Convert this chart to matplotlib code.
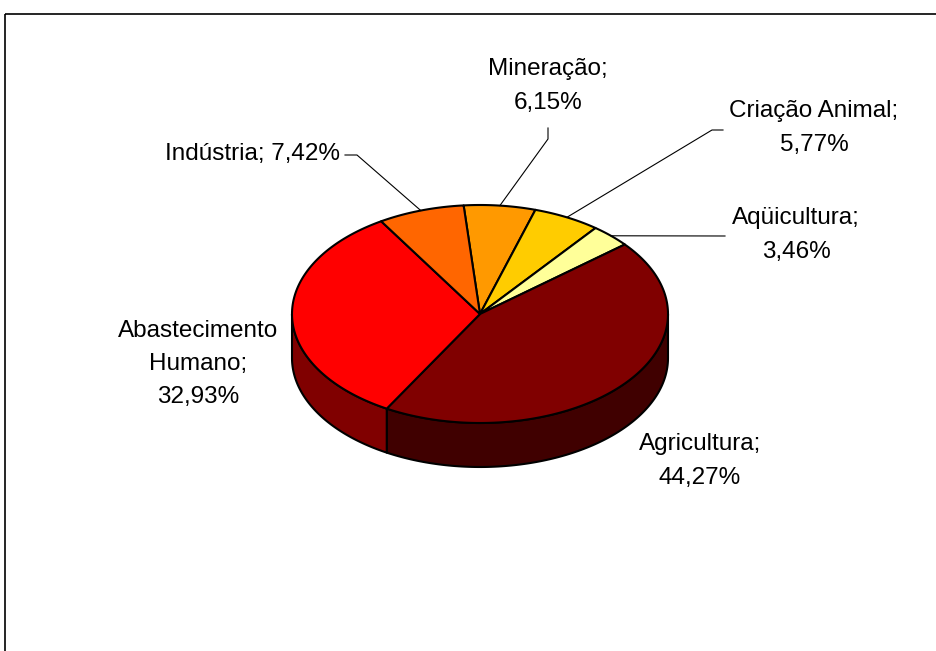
import numpy as np
import matplotlib
matplotlib.use('Agg')
import matplotlib.pyplot as plt
from matplotlib.patches import Polygon, Rectangle

plt.rcParams['font.family'] = ['Liberation Sans', 'DejaVu Sans']

# usos da água (%), em sentido horário a partir do topo
labels = ['Mineração', 'Criação Animal', 'Aqüicultura', 'Agricultura',
          'Abastecimento Humano', 'Indústria']
values = [6.15, 5.77, 3.46, 44.27, 32.93, 7.42]
top_colors = ['#FF9900', '#FFCC00', '#FFFF99', '#800000', '#FF0000', '#FF6600']
side_colors = ['#804C00', '#806600', '#80804C', '#400000', '#800000', '#803300']

# rótulos: texto, posição do texto e cotovelo da linha de chamada (pixels)
label_texts = ['Mineração;\n6,15%', 'Criação Animal;\n5,77%', 'Aqüicultura;\n3,46%',
               'Agricultura;\n44,27%', 'Abastecimento\nHumano;\n32,93%',
               'Indústria; 7,42%']
label_pos = [(548, 86), (814, 128), (796, 235), (700, 461), (198, 364), (253, 154)]
leader_start = [(548, 128), (723, 130), (725, 236), None, None, (345, 155)]
leader_elbow = [(548, 139), (712, 130), None, None, None, (357, 155)]

# geometria do disco em perspectiva
cx, cy, rx, ry, depth = 480, 314, 188, 109, 44
start_angle = 95.0


def ellipse_pts(t, dy=0.0):
    r = np.radians(t)
    return np.column_stack([cx + rx * np.cos(r), cy - ry * np.sin(r) + dy])


def front_spans(a_hi, a_lo):
    spans = []
    for k in (-1, 0, 1):
        lo = max(a_lo, -180 + 360 * k)
        hi = min(a_hi, 360 * k)
        if hi > lo:
            spans.append((lo, hi))
    return spans


fig = plt.figure(figsize=(9.37, 6.51), dpi=100)
ax = fig.add_axes([0, 0, 1, 1])
ax.set_xlim(0, 937)
ax.set_ylim(651, 0)
ax.axis('off')

ax.add_patch(Rectangle((5, 14), 1000, 700, fill=False, edgecolor='black', lw=1.2))

fracs = np.array(values) / sum(values) * 360.0
bounds = start_angle - np.concatenate([[0], np.cumsum(fracs)])

# faces laterais (só a metade da frente aparece)
for i in range(len(values)):
    a_hi, a_lo = bounds[i], bounds[i + 1]
    for lo, hi in front_spans(a_hi, a_lo):
        t = np.linspace(lo, hi, 120)
        pts = np.vstack([ellipse_pts(t), ellipse_pts(t[::-1], depth)])
        ax.add_patch(Polygon(pts, closed=True, facecolor=side_colors[i],
                             edgecolor='black', lw=1.5, joinstyle='round'))

# tampas das fatias
for i in range(len(values)):
    t = np.linspace(bounds[i], bounds[i + 1], 150)
    pts = np.vstack([[cx, cy], ellipse_pts(t)])
    ax.add_patch(Polygon(pts, closed=True, facecolor=top_colors[i],
                         edgecolor='black', lw=1.5, joinstyle='round'))

# rótulos e linhas de chamada
for i in range(len(values)):
    ax.text(label_pos[i][0], label_pos[i][1], label_texts[i], fontsize=17.5,
            ha='center', va='center', linespacing=1.65, color='black')
    if leader_start[i] is not None:
        mid = (bounds[i] + bounds[i + 1]) / 2
        anchor = ellipse_pts(np.array([mid]))[0]
        path = [leader_start[i]]
        if leader_elbow[i] is not None:
            path.append(leader_elbow[i])
        path.append(tuple(anchor))
        xs, ys = zip(*path)
        ax.plot(xs, ys, color='black', lw=0.8)

fig.savefig('out.png', dpi=100)
